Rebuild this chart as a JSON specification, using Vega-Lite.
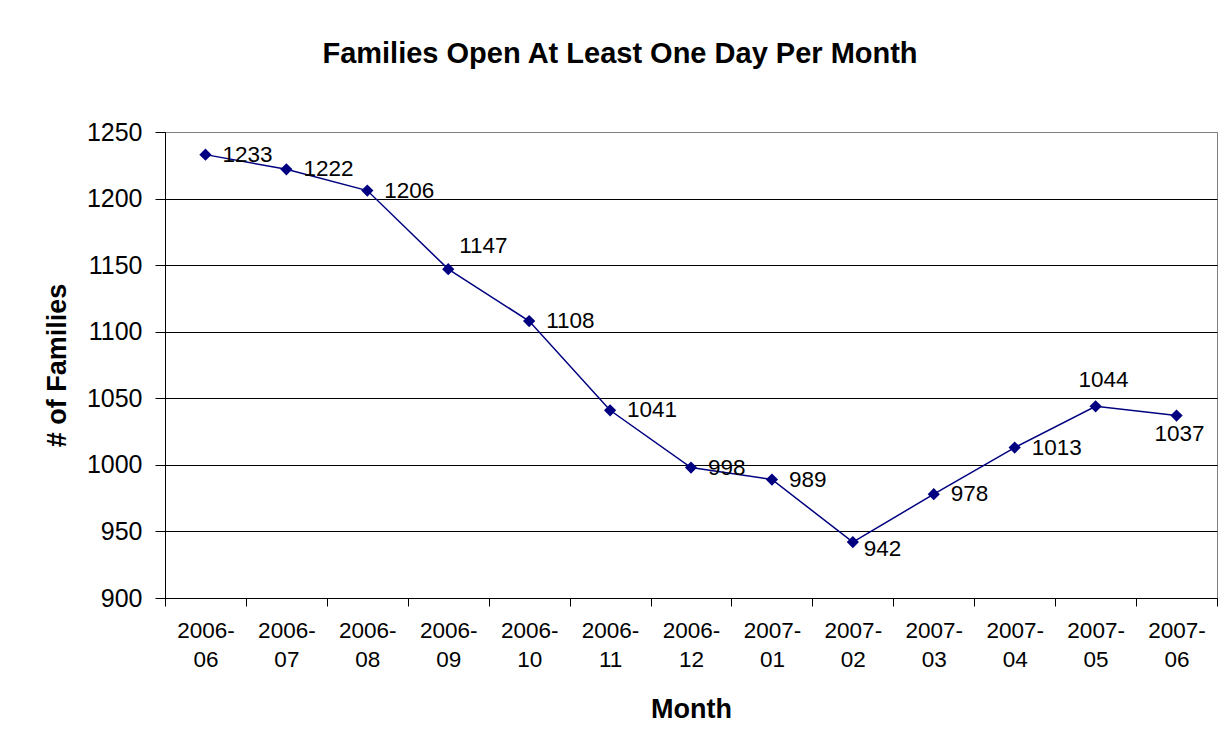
{
  "$schema": "https://vega.github.io/schema/vega-lite/v6.json",
  "autosize": {"type": "none"},
  "width": 1052,
  "height": 466,
  "padding": {"left": 165, "top": 132, "right": 11, "bottom": 152},
  "background": "white",
  "title": {
    "text": "Families Open At Least One Day Per Month",
    "font": "Liberation Sans",
    "fontSize": 29,
    "fontWeight": "bold",
    "color": "black",
    "anchor": "middle",
    "frame": "group",
    "baseline": "alphabetic",
    "dx": -71,
    "offset": 28
  },
  "data": {
    "values": [
      {"month": "2006-06", "families": 1233},
      {"month": "2006-07", "families": 1222},
      {"month": "2006-08", "families": 1206},
      {"month": "2006-09", "families": 1147},
      {"month": "2006-10", "families": 1108},
      {"month": "2006-11", "families": 1041},
      {"month": "2006-12", "families": 998},
      {"month": "2007-01", "families": 989},
      {"month": "2007-02", "families": 942},
      {"month": "2007-03", "families": 978},
      {"month": "2007-04", "families": 1013},
      {"month": "2007-05", "families": 1044},
      {"month": "2007-06", "families": 1037}
    ]
  },
  "encoding": {
    "x": {
      "field": "month",
      "type": "ordinal",
      "bandPosition": 0.5,
      "scale": {"type": "band", "paddingInner": 0, "paddingOuter": 0},
      "axis": {
        "title": "Month",
        "titleFont": "Liberation Sans",
        "titleFontSize": 27,
        "titleFontWeight": "bold",
        "titleColor": "black",
        "titlePadding": 26,
        "labelAngle": 0,
        "labelFont": "Liberation Sans",
        "labelFontSize": 22.5,
        "labelColor": "black",
        "labelLineHeight": 29,
        "labelPadding": 13,
        "labelExpr": "[slice(datum.label, 0, 5), slice(datum.label, 5)]",
        "tickBand": "extent",
        "tickSize": 8,
        "tickColor": "black",
        "domainColor": "black",
        "grid": false
      }
    },
    "y": {
      "field": "families",
      "type": "quantitative",
      "scale": {"domain": [900, 1250], "nice": false, "zero": false},
      "axis": {
        "title": "# of Families",
        "titleFont": "Liberation Sans",
        "titleFontSize": 27,
        "titleFontWeight": "bold",
        "titleColor": "black",
        "titlePadding": 15,
        "values": [900, 950, 1000, 1050, 1100, 1150, 1200, 1250],
        "format": "d",
        "labelFont": "Liberation Sans",
        "labelFontSize": 25,
        "labelColor": "black",
        "labelPadding": 13,
        "tickSize": 10,
        "tickColor": "black",
        "domainColor": "black",
        "grid": true,
        "gridColor": {"condition": {"test": "datum.value === 1250", "value": "#808080"}, "value": "black"},
        "gridOpacity": 1
      }
    }
  },
  "layer": [
    {"mark": {"type": "line", "color": "#000080", "strokeWidth": 1.5}},
    {"mark": {"type": "point", "shape": "diamond", "filled": true, "size": 150, "color": "#000080", "opacity": 1}},
    {
      "transform": [{"filter": "indexof(['2006-09', '2007-02', '2007-05', '2007-06'], datum.month) < 0"}],
      "mark": {"type": "text", "align": "left", "baseline": "middle", "dx": 17, "font": "Liberation Sans", "fontSize": 22.5, "color": "black"},
      "encoding": {"text": {"field": "families", "type": "quantitative"}}
    },
    {
      "transform": [{"filter": "datum.month === '2006-09'"}],
      "mark": {"type": "text", "align": "left", "baseline": "middle", "dx": 11, "dy": -23, "font": "Liberation Sans", "fontSize": 22.5, "color": "black"},
      "encoding": {"text": {"field": "families", "type": "quantitative"}}
    },
    {
      "transform": [{"filter": "datum.month === '2007-02'"}],
      "mark": {"type": "text", "align": "left", "baseline": "middle", "dx": 11, "dy": 7, "font": "Liberation Sans", "fontSize": 22.5, "color": "black"},
      "encoding": {"text": {"field": "families", "type": "quantitative"}}
    },
    {
      "transform": [{"filter": "datum.month === '2007-05'"}],
      "mark": {"type": "text", "align": "center", "baseline": "middle", "dx": 8, "dy": -26, "font": "Liberation Sans", "fontSize": 22.5, "color": "black"},
      "encoding": {"text": {"field": "families", "type": "quantitative"}}
    },
    {
      "transform": [{"filter": "datum.month === '2007-06'"}],
      "mark": {"type": "text", "align": "center", "baseline": "middle", "dx": 3, "dy": 18, "font": "Liberation Sans", "fontSize": 22.5, "color": "black"},
      "encoding": {"text": {"field": "families", "type": "quantitative"}}
    }
  ],
  "config": {
    "view": {"stroke": "#808080", "strokeWidth": 1}
  }
}
